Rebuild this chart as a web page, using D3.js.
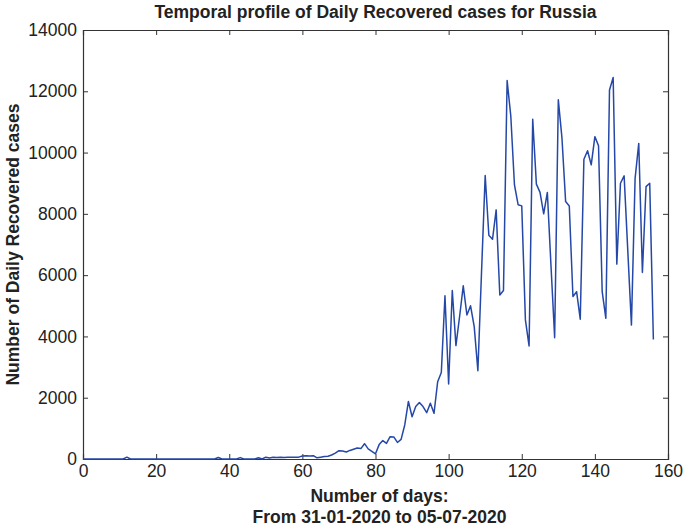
<!DOCTYPE html>
<html>
<head>
<meta charset="utf-8">
<script src="https://cdn.jsdelivr.net/npm/d3@7"></script>
<style>
    body { margin: 0; background: #fff; }
    text { font-family: "Liberation Sans", Arial, sans-serif; }
</style>
</head>
<body>
<div id="chart"></div>
<script>
// daily recovered cases, day 0 = 31-01-2020
var recovered = [
    0, 0, 0, 0, 0, 0, 0, 0, 0, 0,
    0, 0, 60, 0, 0, 0, 0, 0, 0, 0,
    0, 0, 0, 0, 0, 0, 0, 0, 0, 0,
    0, 0, 0, 0, 0, 0, 0, 50, 0, 0,
    0, 0, 0, 45, 0, 0, 0, 0, 40, 0,
    60, 30, 60, 50, 55, 50, 60, 55, 60, 60,
    100, 110, 100, 110, 40, 60, 80, 90, 130, 190,
    270, 260, 230, 280, 320, 360, 340, 500, 330, 250,
    170, 470, 600, 510, 730, 720, 540, 640, 1110, 1880,
    1380, 1710, 1840, 1710, 1510, 1820, 1490, 2520, 2820, 5330,
    2450, 5500, 3700, 4650, 5650, 4700, 5000, 4320, 2880, 6100,
    9250, 7300, 7170, 8130, 5350, 5500, 12350, 11200, 8950, 8300,
    8260, 4540, 3690, 11090, 8970, 8700, 8000, 8700, 6300, 3960,
    11720, 10470, 8400, 8260, 5300, 5460, 4560, 9780, 10060, 9600,
    10520, 10220, 5460, 4590, 12040, 12450, 6360, 9000, 9240, 6800,
    4370, 9160, 10300, 6090, 8890, 9000, 3900
];
var days = d3.range(recovered.length);
var xTicks = [0, 20, 40, 60, 80, 100, 120, 140, 160];
var yTicks = [0, 2000, 4000, 6000, 8000, 10000, 12000, 14000];

var margin = {
    top: 30,
    right: 17,
    bottom: 69,
    left: 83
};

var width = 685 - margin.left - margin.right;
var height = 528 - margin.top - margin.bottom;

var svg = d3.select('#chart').append('svg')
    .attr("width", 685)
    .attr("height", 528)

var g = svg.append("g")
    .attr("transform", "translate(" + margin.left + "," + margin.top + ")")

//scale
var x = d3.scaleLinear()
    .domain([0, 160])
    .range([0, width]);

var y = d3.scaleLinear()
    .domain([0, 14000])
    .range([height, 0]);

//axes, ticks pointing inward on all four sides
var xAxisCall = d3.axisBottom(x).tickValues(xTicks).tickSize(-5).tickPadding(6).tickFormat(d3.format("d"));
var yAxisCall = d3.axisLeft(y).tickValues(yTicks).tickSize(-5).tickPadding(6).tickFormat(d3.format("d"));

g.append('g')
    .attr("class", "x-axis")
    .attr("transform", "translate(0, " + height + ")")
    .call(xAxisCall)

g.append('g')
    .attr("class", "y-axis")
    .call(yAxisCall)

g.append('g')
    .call(d3.axisTop(x).tickValues(xTicks).tickSize(-5).tickFormat(""))

g.append('g')
    .attr("transform", "translate(" + width + ", 0)")
    .call(d3.axisRight(y).tickValues(yTicks).tickSize(-5).tickFormat(""))

g.selectAll(".domain").attr("stroke", "#333").attr("stroke-width", 1.2)
g.selectAll(".tick line").attr("stroke", "#333")
g.selectAll(".x-axis text, .y-axis text")
    .attr("font-size", "17.5px")
    .attr("fill", "#222")

//line
var valueline = d3.line()
    .x(function (d, i) {
        return x(days[i]);
    })
    .y(function (d) {
        return y(d);
    })

g.append("path")
    .datum(recovered)
    .attr("class", "line")
    .attr("d", valueline)
    .attr("stroke", "#2548a8")
    .attr("fill", "none")
    .attr("stroke-width", "1.5px")
    .attr("stroke-linejoin", "round")

//labels
svg.append("text")
    .attr("x", margin.left + width / 2)
    .attr("y", 18)
    .attr("text-anchor", "middle")
    .attr("font-size", "17.5px")
    .attr("font-weight", "bold")
    .attr("fill", "#222")
    .text("Temporal profile of Daily Recovered cases for Russia")

svg.append("text")
    .attr("x", margin.left + width / 2 + 4)
    .attr("y", 502)
    .attr("text-anchor", "middle")
    .attr("font-size", "17.5px")
    .attr("font-weight", "bold")
    .attr("fill", "#222")
    .text("Number of days:")

svg.append("text")
    .attr("x", margin.left + width / 2 + 4)
    .attr("y", 523)
    .attr("text-anchor", "middle")
    .attr("font-size", "17.5px")
    .attr("font-weight", "bold")
    .attr("fill", "#222")
    .text("From 31-01-2020 to 05-07-2020")

svg.append("text")
    .attr("transform", "translate(19," + (margin.top + height / 2) + ") rotate(-90)")
    .attr("text-anchor", "middle")
    .attr("font-size", "17.5px")
    .attr("font-weight", "bold")
    .attr("fill", "#222")
    .text("Number of Daily Recovered cases")
</script>
</body>
</html>
